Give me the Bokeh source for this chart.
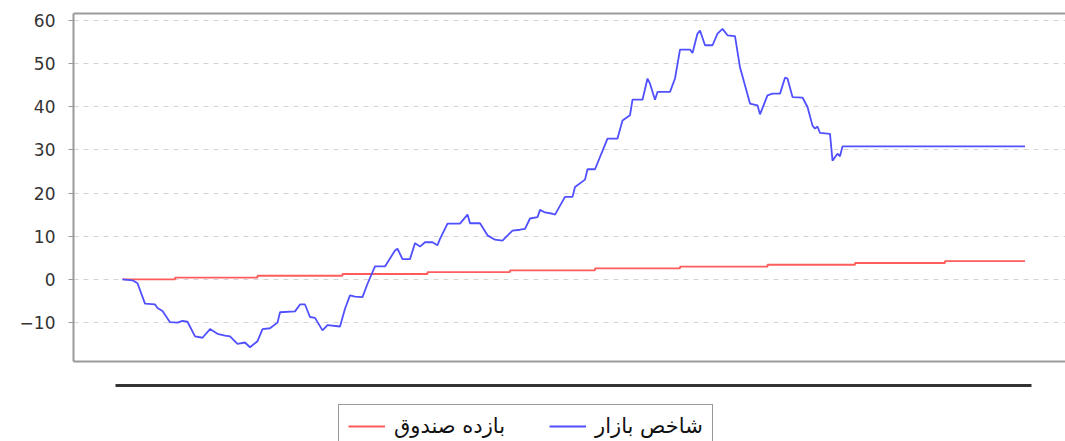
from bokeh.plotting import figure
from bokeh.layouts import column
from bokeh.models import (Range1d, LinearAxis, FixedTicker, Legend, LegendItem)
from bokeh.embed import file_html
from bokeh.resources import INLINE

# ---------------- data ----------------
# market index (blue): day index and cumulative return (%)
market_days = [0, 4, 6, 9, 13, 14, 16, 19, 22, 24, 26, 29, 32, 35, 38, 41, 43, 46, 49, 51,
               54, 56, 59, 62, 63, 69, 71, 73, 75, 77, 80, 82, 87, 89, 91, 93, 96, 98, 101, 105,
               109, 110, 112, 115, 117, 119, 121, 124, 126, 127, 130, 135, 138, 139, 143, 146, 149, 152, 156, 159,
               161, 163, 166, 167, 169, 172, 173, 177, 180, 181, 185, 186, 189, 194, 198, 200, 203, 204, 208, 210,
               211, 213, 214, 219, 221, 223, 227, 228, 230, 231, 233, 236, 238, 240, 242, 245, 247, 251, 254, 255,
               258, 260, 263, 265, 266, 268, 272, 274, 276, 277, 278, 279, 283, 284, 286, 287, 288, 361]
market_values = [0.0, -0.2, -0.9, -5.6, -5.8, -6.6, -7.3, -9.9, -10.0, -9.6, -9.8, -13.2, -13.5, -11.5, -12.6, -13.0, -13.2, -14.9, -14.6, -15.7,
                 -14.3, -11.5, -11.3, -10.0, -7.6, -7.4, -5.8, -5.8, -8.7, -8.9, -11.8, -10.6, -10.9, -6.8, -3.7, -4.0, -4.1, -1.0, 3.0, 3.0,
                 6.7, 7.1, 4.7, 4.7, 8.4, 7.6, 8.6, 8.6, 7.9, 9.4, 12.9, 12.9, 15.0, 13.0, 13.0, 10.2, 9.2, 9.0, 11.3, 11.5,
                 11.7, 14.1, 14.4, 16.1, 15.5, 15.2, 15.0, 19.1, 19.1, 21.4, 23.1, 25.5, 25.5, 32.6, 32.6, 36.8, 38.0, 41.6, 41.6, 46.5,
                 45.3, 41.6, 43.4, 43.4, 46.5, 53.2, 53.2, 52.4, 56.9, 57.6, 54.2, 54.2, 56.9, 58.0, 56.5, 56.3, 49.1, 40.7, 40.3, 38.2,
                 42.6, 43.0, 43.0, 46.7, 46.5, 42.2, 42.1, 39.9, 35.6, 34.9, 35.4, 33.9, 33.7, 27.5, 29.1, 28.5, 30.8, 30.8]

# fund return (red): step changes
fund_days = [0, 21, 54, 88, 122, 155, 189, 223, 258, 293, 329, 361]
fund_values = [0.0, 0.4, 0.85, 1.25, 1.7, 2.1, 2.55, 2.95, 3.4, 3.8, 4.25, 4.25]

y_ticks = [-10, 0, 10, 20, 30, 40, 50, 60]
y_tick_labels = ["\u221210", "0", "10", "20", "30", "40", "50", "60"]

fund_label = "بازده صندوق"
market_label = "شاخص بازار"

FONT = "DejaVu Sans"
FRAME = "#9a9a9a"
BLUE = "#5050ff"
RED = "#ff5c5c"

W = 1065

p = figure(width=W, height=378,
           x_range=Range1d(-19.6, 377.2), y_range=Range1d(-19.0, 61.55),
           output_backend="svg", toolbar_location=None,
           min_border_left=73, min_border_right=0, min_border_top=13, min_border_bottom=17)
p.outline_line_color = None
p.background_fill_color = "white"
p.border_fill_color = "white"

p.step(fund_days, fund_values, mode="after", line_color=RED, line_width=1.8)
p.line(market_days, market_values, line_color=BLUE, line_width=1.8)

# y axis
p.yaxis.ticker = FixedTicker(ticks=y_ticks)
p.yaxis.major_label_overrides = {t: s for t, s in zip(y_ticks, y_tick_labels)}
p.yaxis.axis_line_color = FRAME
p.yaxis.axis_line_width = 2
p.yaxis.major_tick_line_color = FRAME
p.yaxis.major_tick_out = 5
p.yaxis.major_tick_in = 0
p.yaxis.minor_tick_line_color = None
p.yaxis.major_label_standoff = 13
p.yaxis.major_label_text_font = FONT
p.yaxis.major_label_text_font_size = "17px"
p.yaxis.major_label_text_color = "#333333"

p.ygrid.grid_line_color = "#d4d4d4"
p.ygrid.grid_line_dash = "5 5"
p.xgrid.visible = False

# bottom frame edge
p.xaxis.ticker = FixedTicker(ticks=[])
p.xaxis.axis_line_color = FRAME
p.xaxis.axis_line_width = 2
p.xaxis.major_tick_out = 0
p.xaxis.major_tick_in = 0
p.xaxis.minor_tick_line_color = None
p.xaxis.major_label_text_font_size = "0px"

# top frame edge
top_axis = LinearAxis(ticker=FixedTicker(ticks=[]), axis_line_color=FRAME, axis_line_width=2,
                      major_tick_out=0, major_tick_in=0, minor_tick_out=0, minor_tick_in=0,
                      major_label_text_font_size="0px")
p.add_layout(top_axis, "above")

# ---------------- lower strip: timeline bar + legend ----------------
p2 = figure(width=W, height=63, x_range=p.x_range, y_range=Range1d(0, 1),
            output_backend="svg", toolbar_location=None,
            x_axis_location=None, y_axis_location=None,
            min_border_left=73, min_border_right=0, min_border_top=7, min_border_bottom=0)
p2.outline_line_color = None
p2.grid.visible = False
p2.background_fill_color = "white"
p2.border_fill_color = "white"
# series are repeated here only as legend keys, on a range that keeps them out of view
p2.extra_y_ranges = {"keys": Range1d(1000, 1001)}

bar_axis = LinearAxis(ticker=FixedTicker(ticks=[]), axis_line_color="#333333", axis_line_width=3,
                      bounds=(market_days[0] - 3, market_days[-1] + 2.5),
                      major_tick_out=0, major_tick_in=0, minor_tick_out=0, minor_tick_in=0,
                      major_label_text_font_size="0px")
p2.add_layout(bar_axis, "above")

k_fund = p2.step(fund_days, fund_values, mode="after", line_color=RED, line_width=1.8,
                 y_range_name="keys")
k_market = p2.line(market_days, market_values, line_color=BLUE, line_width=1.8,
                   y_range_name="keys")

legend = Legend(items=[LegendItem(label=fund_label, renderers=[k_fund]),
                       LegendItem(label=market_label, renderers=[k_market])],
                orientation="horizontal", location=(265, -7),
                label_text_font=FONT, label_text_font_size="21px", label_text_color="#111111",
                glyph_width=37, glyph_height=22, label_height=22, label_standoff=9,
                spacing=44, padding=9,
                border_line_color="#333333", border_line_width=1.5,
                background_fill_color="white", background_fill_alpha=1.0)
p2.add_layout(legend, "center")

layout = column(p, p2, spacing=0)
open("out.html", "w").write(file_html(layout, INLINE))
